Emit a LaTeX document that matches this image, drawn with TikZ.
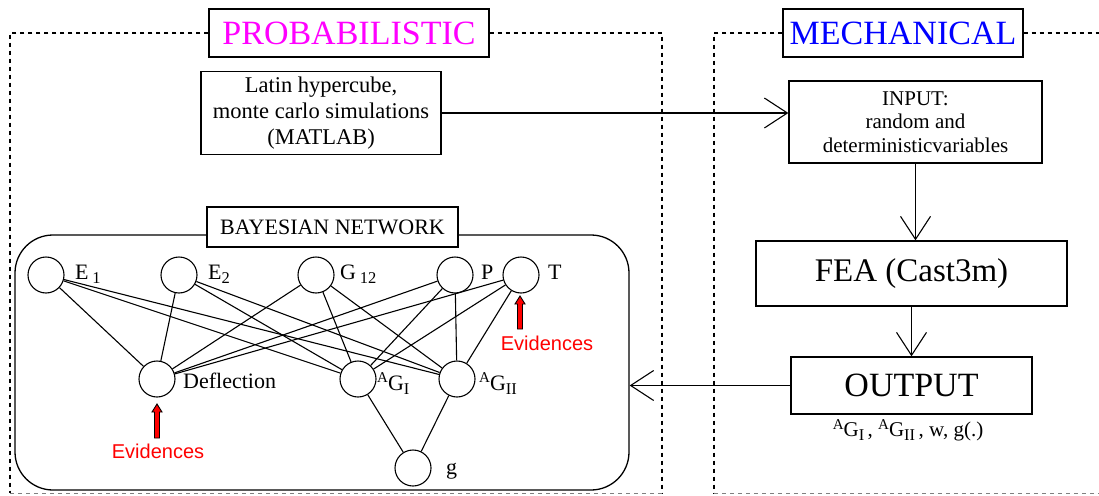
\documentclass[tikz,border=0pt]{standalone}
\usepackage{fontspec}
\setmainfont{Liberation Serif}
\newfontfamily\evfont{Liberation Sans}
\usetikzlibrary{arrows.meta,calc}
\definecolor{probcol}{RGB}{255,0,255}
\definecolor{mechcol}{RGB}{0,0,255}
\definecolor{evcol}{RGB}{255,0,0}
\newcommand\lsub[1]{\raisebox{-0.45ex}{\fontsize{16.5pt}{18pt}\selectfont #1}}
\newcommand\lsup[1]{\raisebox{0.75ex}{\fontsize{15pt}{18pt}\selectfont #1}}
\begin{document}
\begin{tikzpicture}[x=1pt,y=-1pt,
  box/.style={draw,line width=1.3pt,fill=white,inner sep=0pt,align=center},
  bnode/.style={draw,circle,line width=1.1pt,minimum size=36pt,inner sep=0pt,fill=white},
  edge/.style={line width=1.1pt},
  flow/.style={line width=1.1pt,-{Straight Barb[length=23pt,width=30pt,line width=1.1pt]}},
  frame/.style={line width=1.1pt,dash pattern=on 4pt off 4pt},
  gframe/.style={line width=0.9pt,gray,dash pattern=on 4pt off 4pt},
  lbl/.style={anchor=base west,inner sep=0pt,font=\fontsize{22pt}{24pt}\selectfont},
  evtext/.style={text=evcol,inner sep=0pt,font=\evfont\fontsize{20pt}{22pt}\selectfont},
  evarrow/.style={draw=black,fill=evcol,line width=0.9pt,line join=miter}
]
\useasboundingbox (0,0) rectangle (1099,495);

% title boxes
\node[box,minimum width=280pt,minimum height=48pt,text=probcol,
      font=\fontsize{34pt}{40pt}\selectfont] (prob) at (349,33) {PROBABILISTIC};
\node[box,minimum width=240pt,minimum height=48pt,text=mechcol,
      font=\fontsize{34pt}{40pt}\selectfont] (mech) at (903,33) {MECHANICAL};

% dashed frames
\coordinate (lt) at (10,33);
\coordinate (lb) at (10,493);
\coordinate (rt) at (662,33);
\coordinate (rb) at (662,493);
\coordinate (mlt) at (714,33);
\coordinate (mlb) at (714,493);
\coordinate (mrt) at (1099,33);
\coordinate (mrb) at (1099,493);
\draw[frame] (prob.west) -- (lt) -- (lb);
\draw[frame] (prob.east) -- (rt) -- (rb);
\draw[gframe] (lb) -- (rb);
\draw[frame] (mech.west) -- (mlt) -- (mlb);
\draw[frame] (mech.east) -- (mrt);
\draw[gframe] (mlb) -- (mrb);

% process boxes
\node[box,minimum width=240pt,minimum height=83pt,
      font=\fontsize{22.5pt}{26pt}\selectfont] (latin) at (321,113)
      {Latin hypercube,\\monte carlo simulations\\(MATLAB)};
\node[box,minimum width=253pt,minimum height=82pt,
      font=\fontsize{21pt}{23.5pt}\selectfont] (input) at (915.5,122)
      {INPUT:\\random and\\deterministicvariables};
\node[box,minimum width=311pt,minimum height=65pt,
      font=\fontsize{33pt}{38pt}\selectfont] (fea) at (911.5,273.5) {FEA (Cast3m)};
\node[box,minimum width=241pt,minimum height=57pt,
      font=\fontsize{34pt}{38pt}\selectfont] (output) at (911.5,385.5) {OUTPUT};
\node[inner sep=0pt,font=\fontsize{21pt}{24pt}\selectfont] (outlbl) at (908,430)
      {\lsup{A}G\lsub{I}\,, \lsup{A}G\lsub{II}\,, w, g(.)};

% Bayesian network container
\node[draw,line width=1.3pt,rounded corners=38pt,minimum width=614pt,minimum height=255pt,
      inner sep=0pt] (bnet) at (322,362.5) {};
\node[box,minimum width=251pt,minimum height=40pt,
      font=\fontsize{22pt}{26pt}\selectfont] (bntitle) at (332.5,227) {BAYESIAN NETWORK};

% flows
\draw[flow] (latin.east) -- (latin.east -| input.west);
\draw[flow] (input.south) -- (input.south |- fea.north);
\draw[flow] (fea.south) -- (fea.south |- output.north);
\draw[flow] (output.west) -- (output.west -| bnet.east);

% BN nodes
\node[bnode] (E1) at (46,275) {};
\node[bnode] (E2) at (179,275) {};
\node[bnode] (G12) at (316,275) {};
\node[bnode] (P) at (455,275) {};
\node[bnode] (T) at (521,275) {};
\node[bnode] (D) at (157,379) {};
\node[bnode] (AGI) at (358,379) {};
\node[bnode] (AGII) at (457,379) {};
\node[bnode] (g) at (413,468) {};

% BN labels
\node[lbl] (lE1) at (75,279) {E\,\lsub{1}};
\node[lbl] (lE2) at (208,279) {E\lsub{2}};
\node[lbl] (lG12) at (340,279) {G\,\lsub{12}};
\node[lbl] (lP) at (481,279) {P};
\node[lbl] (lT) at (548,279) {T};
\node[lbl] (lD) at (183,388) {Deflection};
\node[lbl] (lAGI) at (377,390) {\lsup{A}G\lsub{I}};
\node[lbl] (lAGII) at (479,390) {\lsup{A}G\lsub{II}};
\node[lbl] (lg) at (446,474) {g};

% BN edges
\foreach \s in {E1,E2,G12,P,T}{
  \draw[edge] (\s) -- (D);
  \draw[edge] (\s) -- (AGI);
  \draw[edge] (\s) -- (AGII);
}
\draw[edge] (AGI) -- (g);
\draw[edge] (AGII) -- (g);

% evidences
\draw[evarrow,shift={(520,296)}] (0,0) -- (5,8) -- (2.5,8) -- (2.5,33) -- (-2.5,33) -- (-2.5,8) -- (-5,8) -- cycle;
\node[evtext] (ev1) at (547,343) {Evidences};
\draw[evarrow,shift={(157,404)}] (0,0) -- (5,8) -- (2.5,8) -- (2.5,34) -- (-2.5,34) -- (-2.5,8) -- (-5,8) -- cycle;
\node[evtext] (ev2) at (158,451) {Evidences};
\end{tikzpicture}
\end{document}
